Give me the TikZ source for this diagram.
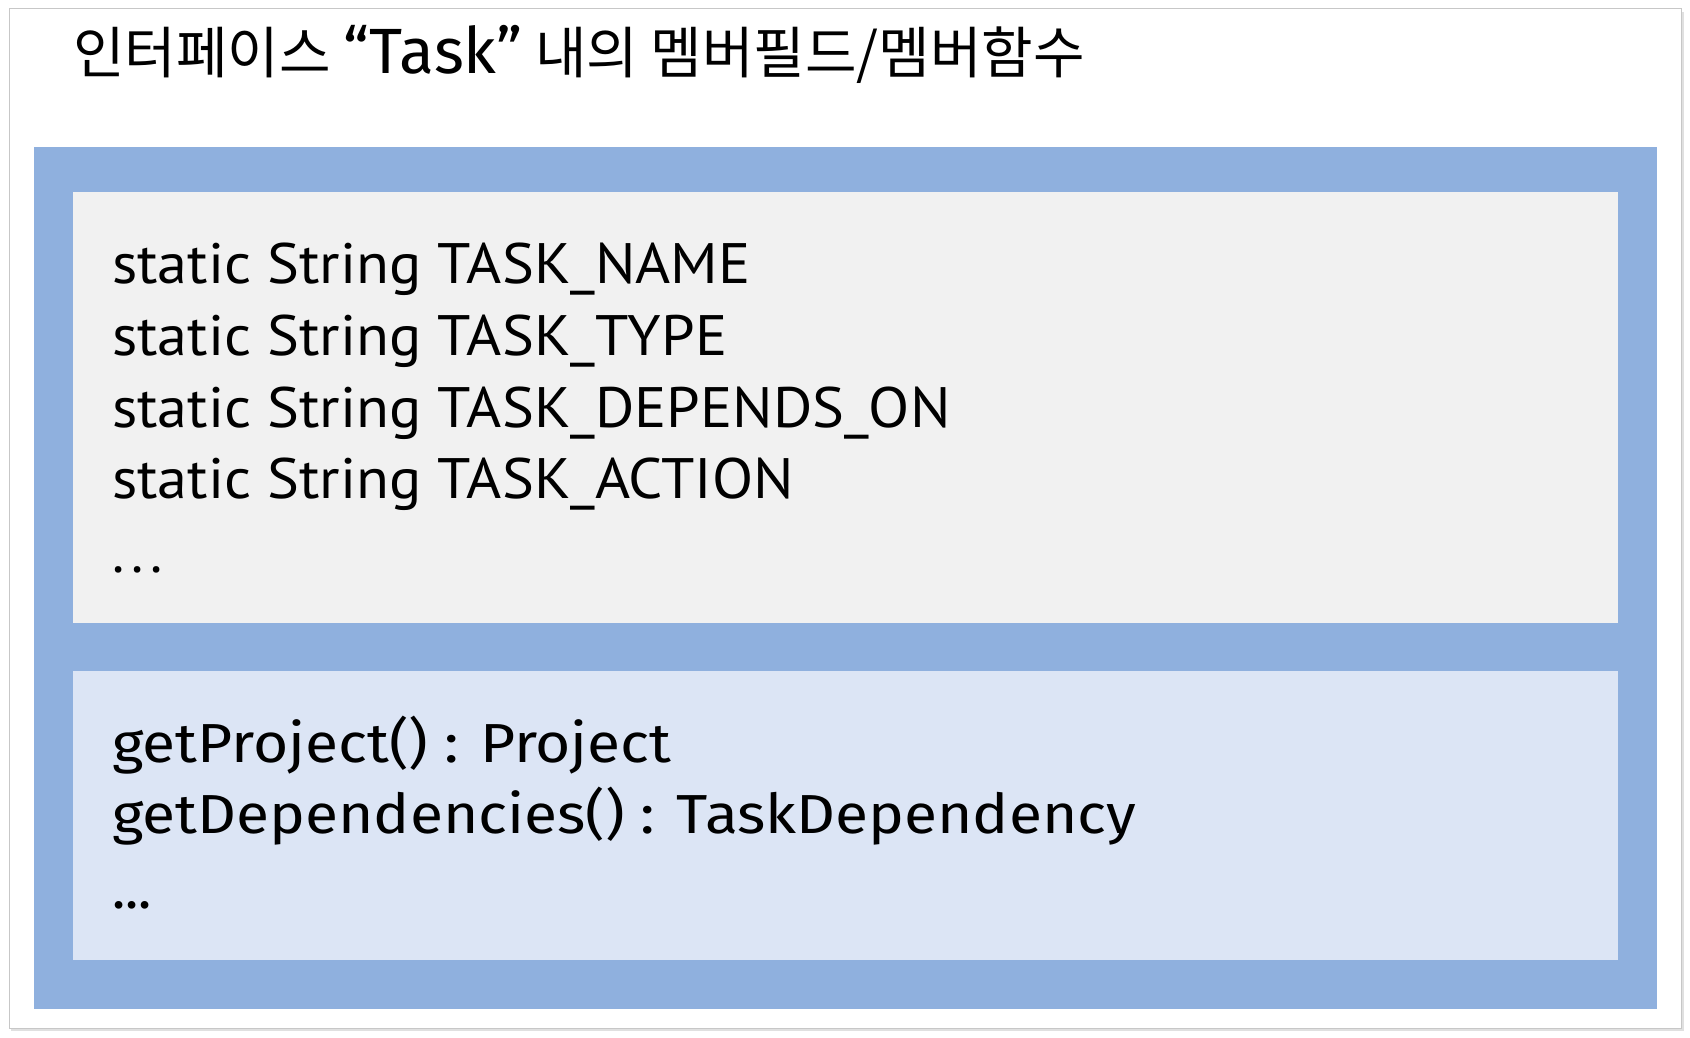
\documentclass[tikz,border=0pt]{standalone}
\usepackage{fontspec}
\usepackage{graphicx}
\newfontfamily\kr{Noto Sans CJK KR}
\newfontfamily\fa{PT Sans}
\newfontfamily\fb{Fira Sans}
\definecolor{frameblue}{RGB}{143,176,222}
\definecolor{fieldgray}{RGB}{241,241,241}
\definecolor{methblue}{RGB}{220,229,245}
\newcommand{\fieldline}[1]{\scalebox{1.055}[1]{#1}}
\newcommand{\methline}[1]{\scalebox{1.1}[1]{#1}}
\tikzset{
  fieldtxt/.style={anchor=base west, inner sep=0pt, font=\fa\fontsize{57}{72}\selectfont},
  methtxt/.style={anchor=base west, inner sep=0pt, font=\fb\fontsize{55}{72}\selectfont},
}
\begin{document}
\begin{tikzpicture}[x=1pt,y=-1pt]
\useasboundingbox (0,0) rectangle (1690,1038);
% outer frame with slight shadow
\fill[black!12] (11,12) rectangle (1684,1031);
\fill[white,draw=black!22,line width=1pt] (9,9) rectangle (1681,1028);
% blue frame and inner boxes
\node[fill=frameblue,inner sep=0,minimum width=1623,minimum height=862,anchor=north west] (outer) at (34,147) {};
\node[fill=fieldgray,inner sep=0,minimum width=1545,minimum height=431,anchor=north west] (fields) at (73,192) {};
\node[fill=methblue,inner sep=0,minimum width=1545,minimum height=289,anchor=north west] (methods) at (73,671) {};
% title
\node[anchor=base west,inner sep=0pt] (title) at (73,74) {\kr\fontsize{56}{60}\selectfont 인터페이스 {\fb\fontsize{64}{66}\selectfont “Task”} 내의 멤버필드/멤버함수};
% fields
\node[fieldtxt] (f1) at (112,283) {\fieldline{static String TASK\_NAME}};
\node[fieldtxt] (f2) at (112,355) {\fieldline{static String TASK\_TYPE}};
\node[fieldtxt] (f3) at (112,427) {\fieldline{static String TASK\_DEPENDS\_ON}};
\node[fieldtxt] (f4) at (112,498) {\fieldline{static String TASK\_ACTION}};
\node[fieldtxt] (f5) at (112,572) {.\hspace{7pt}.\hspace{7pt}.};
% methods
\node[methtxt] (m1) at (112,762) {\methline{getProject() : Project}};
\node[methtxt] (m2) at (112,833) {\methline{getDependencies() : TaskDependency}};
\node[methtxt] (m3) at (112,908) {...};
\end{tikzpicture}
\end{document}
